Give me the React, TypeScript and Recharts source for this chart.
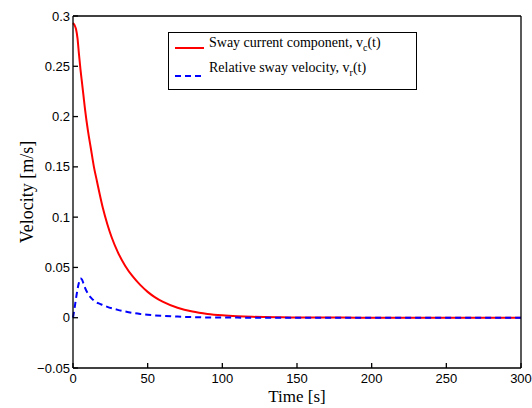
import { Label, Legend, Line, LineChart, XAxis, YAxis } from "recharts";

const times = [
  0, 1, 2, 3, 4, 5, 6, 7, 8, 10, 12, 14, 16, 18, 20, 23, 26, 30, 35, 40, 45, 50, 55, 60, 70, 80, 90,
  100, 110, 120, 140, 160, 180, 200, 220, 240, 260, 280, 300,
];
const swayCurrent = [
  0.293, 0.291, 0.287, 0.278, 0.262, 0.247, 0.234, 0.221, 0.208, 0.186, 0.168, 0.15, 0.136, 0.122,
  0.109, 0.093, 0.0795, 0.0652, 0.0515, 0.041, 0.0326, 0.0257, 0.0202, 0.0159, 0.0099, 0.0061, 0.0038,
  0.0024, 0.0015, 0.0009, 0.0004, 0.0002, 0.0001, 0, 0, 0, 0, 0, 0,
];
const relativeSway = [
  0, 0.009, 0.019, 0.028, 0.035, 0.039, 0.038, 0.034, 0.03, 0.024, 0.02, 0.017, 0.015, 0.0138,
  0.0125, 0.0108, 0.0094, 0.0078, 0.0062, 0.0048, 0.0037, 0.0029, 0.0023, 0.0018, 0.0011, 0.0006,
  0.0003, 0.0002, 0.0001, 0, 0, 0, 0, 0, 0, 0, 0, 0, 0,
];
const xTicks = [0, 50, 100, 150, 200, 250, 300];
const yTicks = [-0.05, 0, 0.05, 0.1, 0.15, 0.2, 0.25, 0.3];

const data = times.map((t, i) => ({ t, vc: swayCurrent[i], vr: relativeSway[i] }));

const sans = '"Liberation Sans", Arial, Helvetica, sans-serif';
const serif = '"Liberation Serif", "Times New Roman", Times, serif';
const tickStyle = { fill: "#000", fontSize: 13, fontFamily: sans };

const fmtY = (v: number) => (v < 0 ? `\u2212${Math.abs(v)}` : `${v}`);

function LegendBox() {
  const row = { position: "absolute" as const, left: 40, whiteSpace: "nowrap" as const };
  return (
    <div
      style={{
        position: "relative",
        width: 247,
        height: 56,
        border: "1px solid #000",
        background: "#fff",
        fontFamily: serif,
        fontSize: 14,
        color: "#000",
      }}
    >
      <svg width={40} height={56} style={{ position: "absolute", left: 0, top: 0 }}>
        <line x1={6} x2={35} y1={15} y2={15} stroke="#ff0000" strokeWidth={2} />
        <line x1={6} x2={35} y1={43} y2={43} stroke="#0000ff" strokeWidth={2} strokeDasharray="6 4" />
      </svg>
      <div style={{ ...row, top: 2 }}>
        Sway current component, v<sub style={{ fontSize: 10 }}>c</sub>(t)
      </div>
      <div style={{ ...row, top: 27 }}>
        Relative sway velocity, v<sub style={{ fontSize: 10 }}>r</sub>(t)
      </div>
    </div>
  );
}

export default function App() {
  return (
    <div style={{ position: "absolute", left: 0, top: 0, background: "#fff" }}>
      <LineChart width={532} height={408} data={data} margin={{ top: 15, right: 10, bottom: 39, left: 0 }}>
        <XAxis
          dataKey="t"
          type="number"
          domain={[0, 300]}
          ticks={xTicks}
          interval={0}
          height={1}
          tick={tickStyle}
          tickSize={-5}
          tickMargin={11}
          stroke="#000"
          strokeWidth={1.3}
        >
          <Label
            content={() => (
              <text x={297} y={402} textAnchor="middle" fontFamily={serif} fontSize={17} fill="#000">
                Time [s]
              </text>
            )}
          />
        </XAxis>
        <XAxis
          xAxisId="top"
          orientation="top"
          dataKey="t"
          type="number"
          domain={[0, 300]}
          ticks={xTicks}
          interval={0}
          height={1}
          tick={false}
          tickSize={-5}
          stroke="#000"
          strokeWidth={1.3}
        />
        <YAxis
          type="number"
          domain={[-0.05, 0.3]}
          ticks={yTicks}
          interval={0}
          width={73}
          tick={tickStyle}
          tickFormatter={fmtY}
          tickSize={-5}
          tickMargin={8}
          stroke="#000"
          strokeWidth={1.3}
        >
          <Label
            content={() => (
              <text
                x={33}
                y={192}
                transform="rotate(-90 33 192)"
                textAnchor="middle"
                fontFamily={serif}
                fontSize={18}
                fill="#000"
              >
                Velocity [m/s]
              </text>
            )}
          />
        </YAxis>
        <YAxis
          yAxisId="right"
          orientation="right"
          type="number"
          domain={[-0.05, 0.3]}
          ticks={yTicks}
          interval={0}
          width={1}
          tick={false}
          tickSize={-5}
          stroke="#000"
          strokeWidth={1.3}
        />
        <Legend
          layout="vertical"
          align="center"
          verticalAlign="middle"
          content={() => <LegendBox />}
          wrapperStyle={{ left: 168, top: 32, width: 249, height: 58 }}
        />
        <Line
          dataKey="vc"
          type="monotone"
          stroke="#ff0000"
          strokeWidth={2}
          dot={false}
          isAnimationActive={false}
        />
        <Line
          dataKey="vr"
          type="monotone"
          stroke="#0000ff"
          strokeWidth={2}
          strokeDasharray="6 4"
          dot={false}
          isAnimationActive={false}
        />
      </LineChart>
    </div>
  );
}
